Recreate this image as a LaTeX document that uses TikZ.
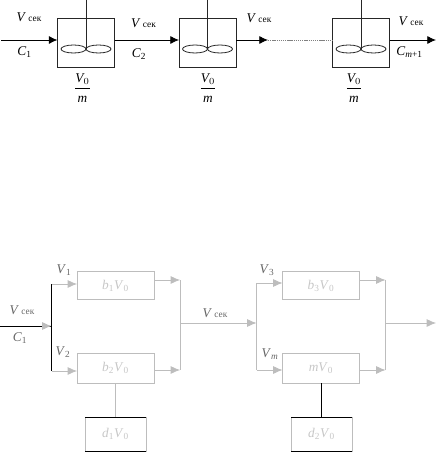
\documentclass[tikz,border=0pt]{standalone}
\usepackage{fontspec}
\setmainfont{Liberation Serif}
\usepackage{amsmath}
\usetikzlibrary{arrows.meta,positioning,calc}
\newcommand{\Vsek}{\textit{V}\,{\scriptsize сек}}
\newcommand{\Vzero}{\textit{V}\textsubscript{0}}
\newcommand{\Vfrac}{$\dfrac{\textit{V}_0\rule[-1.5pt]{0pt}{0pt}}{\rule{0pt}{9pt}\textit{m}}$}
\definecolor{faded}{gray}{0.74}
\definecolor{fadedtext}{gray}{0.78}
\tikzset{
  tank/.style={draw=black!85, line width=0.6pt, minimum width=57*0.75pt, minimum height=49*0.75pt, outer sep=0pt, inner sep=0pt},
  flow/.style={draw=black, line width=0.6pt, -{Latex[length=6.5pt,width=6pt]}},
  paleflow/.style={draw=faded, line width=0.6pt, -{Latex[length=7pt,width=6pt,color=faded]}},
  paleline/.style={draw=faded, line width=0.6pt},
  palebox/.style={draw=faded, line width=0.6pt, text=fadedtext, font=\normalsize, minimum width=77*0.75pt, outer sep=0pt, inner sep=0pt},
  lbl/.style={font=\normalsize, inner sep=0pt},
  palelbl/.style={lbl, text=black!60},
  hardline/.style={draw=black, line width=0.7pt},
}
\begin{document}
\begin{tikzpicture}[x=0.75pt,y=-0.75pt]
    \useasboundingbox (0,0) rectangle (437,452);
    % stirred tanks
    \foreach \tname/\x in {tankA/86,tankB/207.5,tankC/361}{
      \node[tank] (\tname) at (\x,42.5) {};
      \coordinate (\tname top) at (\x,0);
      \coordinate (\tname hub) at (\x,49);
      \draw[black!85, line width=0.6pt] (\tname top) -- (\tname hub);
      \draw[black!85, line width=0.6pt] (\tname hub) ++(-12.5,0) ellipse (12.5 and 4);
      \draw[black!85, line width=0.6pt] (\tname hub) ++(12.5,0) ellipse (12.5 and 4);
    }
    % top flow line
    \coordinate (inA) at (1,40);
    \coordinate (midB) at (268,40);
    \coordinate (outC) at (436,40);
    \draw[flow] (inA) -- (inA -| tankA.west);
    \draw[flow] (inA -| tankA.east) -- (inA -| tankB.west);
    \draw[flow] (inA -| tankB.east) -- (midB);
    \draw[black!50, dash pattern=on 1pt off 0.6pt] (midB) -- (inA -| tankC.west);
    \draw[flow] (inA -| tankC.east) -- (outC);
    % top labels
    \node[lbl] (vA) at (29,17) {\Vsek};
    \node[lbl] (vB) at (143.5,23) {\Vsek};
    \node[lbl] (vC) at (259,18) {\Vsek};
    \node[lbl] (vD) at (411,21) {\Vsek};
    \node[lbl] (cA) at (24.5,52) {\textit{C}\textsubscript{1}};
    \node[lbl] (cB) at (139,54) {\textit{C}\textsubscript{2}};
    \node[lbl] (cC) at (409.5,52) {\textit{C}\textsubscript{\textit{m}+1}};
    \node[lbl] (fracA) at (82.5,88) {\Vfrac};
    \node[lbl] (fracB) at (208,88) {\Vfrac};
    \node[lbl] (fracC) at (354,88) {\Vfrac};
    % reactor blocks
    \node[palebox, minimum height=28*0.75pt] (bA) at (115.5,285.5) {\textit{b}\textsubscript{1}\Vzero};
    \node[palebox, minimum height=30*0.75pt] (bB) at (115.5,368) {\textit{b}\textsubscript{2}\Vzero};
    \node[palebox, minimum height=28*0.75pt] (bC) at (321,285.5) {\textit{b}\textsubscript{3}\Vzero};
    \node[palebox, minimum height=30*0.75pt] (bD) at (321,368) {\textit{m}\Vzero};
    \node[palebox, minimum width=61*0.75pt, minimum height=34*0.75pt] (dA) at (115.5,434) {\textit{d}\textsubscript{1}\Vzero};
    \node[palebox, minimum width=61*0.75pt, minimum height=34*0.75pt] (dB) at (321.5,434) {\textit{d}\textsubscript{2}\Vzero};
    % black edges of the lower boxes
    \draw[hardline] (dA.north west) -- (dA.north east);
    \draw[hardline] (dA.south west) -- (dA.south east);
    \draw[hardline] (dB.north west) -- (dB.north east);
    \draw[hardline] (dB.south west) -- (dB.south east);
    % junctions
    \coordinate (splitA) at (51.5,326);
    \coordinate (tipA) at (42,326);
    \coordinate (splitAt) at (51.5,284);
    \coordinate (splitAb) at (51.5,371);
    \coordinate (joinAt) at (180,280);
    \coordinate (joinAb) at (180,370);
    \coordinate (joinA) at (180,323);
    \coordinate (splitB) at (256.5,323);
    \coordinate (splitBt) at (256.5,283);
    \coordinate (splitBb) at (256.5,370);
    \coordinate (joinBt) at (385.5,280);
    \coordinate (joinBb) at (385.5,370);
    \coordinate (joinB) at (385.5,323);
    \coordinate (inL) at (0,326);
    \coordinate (outL) at (436,323);
    % first group
    \draw[hardline] (inL) -- (splitA);
    \draw[paleflow] (tipA) -- (splitA);
    \draw[hardline] (splitAt) -- (splitAb);
    \draw[paleflow] (splitAt) -- (splitAt -| bA.west);
    \draw[paleflow] (splitAb) -- (splitAb -| bB.west);
    \draw[paleflow] (joinAt -| bA.east) -- (joinAt);
    \draw[paleflow] (joinAb -| bB.east) -- (joinAb);
    \draw[paleline] (joinAt) -- (joinAb);
    \draw[paleflow] (joinA) -- (splitB);
    \draw[paleline] (bB.south -| dA.north) -- (dA.north);
    % second group
    \draw[paleline] (splitBt) -- (splitBb);
    \draw[paleflow] (splitBt) -- (splitBt -| bC.west);
    \draw[paleflow] (splitBb) -- (splitBb -| bD.west);
    \draw[paleflow] (joinBt -| bC.east) -- (joinBt);
    \draw[paleflow] (joinBb -| bD.east) -- (joinBb);
    \draw[paleline] (joinBt) -- (joinBb);
    \draw[paleflow] (joinB) -- (outL);
    \draw[hardline] (bD.south -| dB.north) -- (dB.north);
    % lower labels
    \node[palelbl] (vL) at (22,310) {\Vsek};
    \node[palelbl] (cL) at (20,338) {\textit{C}\textsubscript{1}};
    \node[palelbl] (vbA) at (64,270) {\textit{V}\textsubscript{1}};
    \node[palelbl] (vbB) at (63,352) {\textit{V}\textsubscript{2}};
    \node[palelbl] (vM) at (215,313) {\Vsek};
    \node[palelbl] (vbC) at (267,270) {\textit{V}\textsubscript{3}};
    \node[palelbl] (vbD) at (270,354) {\textit{V}\textsubscript{\textit{m}}};
  \end{tikzpicture}
\end{document}
